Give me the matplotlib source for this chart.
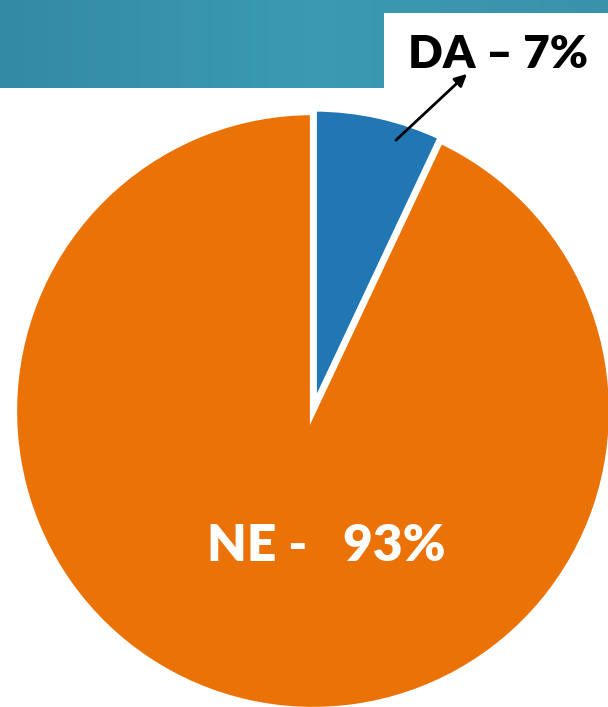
import matplotlib
matplotlib.use("Agg")
import matplotlib.pyplot as plt
import numpy as np
from matplotlib.colors import LinearSegmentedColormap

labels = ["DA", "NE"]
shares = [7, 93]
colors = ["#2077b4", "#eb7207"]
label_text = ["DA – 7%", "NE -   93%"]

W, H = 608, 707
fig = plt.figure(figsize=(W / 100, H / 100), dpi=100)
fig.patch.set_facecolor("white")

# banner across the top (gradient)
bg = fig.add_axes([0, 1 - 88 / H, 1, 88 / H])
grad = np.linspace(0, 1, 256).reshape(1, -1)
cmap = LinearSegmentedColormap.from_list("banner", ["#338aa3", "#3a9bb0", "#3a92ab"])
bg.imshow(grad, aspect="auto", cmap=cmap, extent=[0, 1, 0, 1])
bg.set_xlim(0, 1)
bg.set_ylim(0, 1)
bg.axis("off")
# white box for the DA label
bg.add_patch(plt.Rectangle((384 / W, 0), 1 - 384 / W, (88 - 13) / 88,
                           facecolor="white", edgecolor="none"))

# pie
cx, cy, r = 313, 707 - 411, 299
ax = fig.add_axes([(cx - r) / W, (cy - r) / H, 2 * r / W, 2 * r / H])
wedges, _ = ax.pie(shares, colors=colors, startangle=90, counterclock=False,
                   radius=1, explode=[0.012, 0],
                   wedgeprops=dict(edgecolor="white", linewidth=4.5))
ax.set_xlim(-1, 1)
ax.set_ylim(-1, 1)
ax.set_aspect("equal")
ax.axis("off")

fig.text(498 / W, 1 - 55 / H, label_text[0], ha="center", va="center",
         fontsize=33, fontweight="heavy", family="Lato", color="black")
fig.text(326 / W, 1 - 546 / H, label_text[1], ha="center", va="center",
         fontsize=37, fontweight="heavy", family="Lato", color="white")

fig.add_artist(matplotlib.patches.FancyArrowPatch(
    (394 / W, 1 - 142 / H), (469 / W, 1 - 72 / H), transform=fig.transFigure,
    arrowstyle="-|>", mutation_scale=18, color="black", linewidth=2))

fig.savefig("out.png", dpi=100)
